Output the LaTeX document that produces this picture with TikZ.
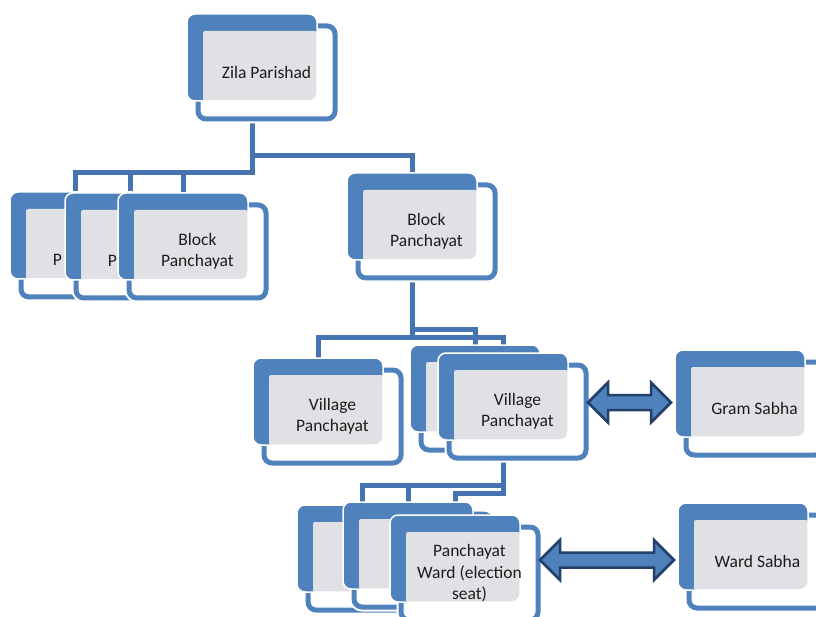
\documentclass[tikz,border=0pt]{standalone}
\usepackage{fontspec}
\setmainfont{Carlito}
\usetikzlibrary{calc}
\pgfdeclarelayer{links}
\pgfsetlayers{links,main}

\definecolor{cardblue}{HTML}{4F81BD}
\definecolor{linkblue}{HTML}{4674B0}
\definecolor{panelgray}{HTML}{DFE1E4}
\definecolor{arrowedge}{HTML}{22406A}
\definecolor{inktext}{HTML}{1C1C1C}

\tikzset{
  % white panel with a thick blue frame, sitting under the plate
  framebox/.style={rectangle, rounded corners=8, fill=white, draw=cardblue,
    line width=5, minimum width=137, minimum height=93, anchor=north west,
    inner sep=0, outer sep=0, preaction={draw=white, line width=9}},
  % solid blue plate on top, with a grey inset reaching its lower right edges
  platebox/.style={rectangle, rounded corners=8, fill=cardblue, draw=white,
    line width=1.5, minimum width=130, minimum height=87, anchor=north west,
    inner sep=0, outer sep=0,
    path picture={\fill[panelgray, rounded corners=2]
      ([shift={(16,-17)}]path picture bounding box.north west) rectangle
      (path picture bounding box.south east);}},
  cardtext/.style={align=center, text=inktext, inner sep=0,
    font=\fontsize{17.5}{21.5}\selectfont},
  conn/.style={draw=linkblue, line width=5},
  dblarrow/.style={fill=cardblue, draw=arrowedge, line width=2.5, line join=miter}
}

% a card: frame #1F, plate #1B and label #1, placed by the plate's top-left corner
\newcommand\orgcard[4]{%
  \node[framebox] (#1F) at ({#2+11},{-#3-12}) {};
  \node[platebox] (#1B) at (#2,-#3) {};
  \node[cardtext] (#1) at ({#2+79.5},{-#3-58.5}) {#4};
}

% two-headed block arrow from one card's frame to another card's plate
\newcommand\linkarrow[2]{%
  \draw[dblarrow] let \p1=(#1F.east), \p2=(#2B.west), \n1={(\y1+\y2)/2} in
    (\x1+2pt,\n1) -- (\x1+22pt,\n1+20) -- (\x1+22pt,\n1+7.5) --
    (\x2-24pt,\n1+7.5) -- (\x2-24pt,\n1+20) -- (\x2-4pt,\n1) --
    (\x2-24pt,\n1-20) -- (\x2-24pt,\n1-7.5) -- (\x1+22pt,\n1-7.5) --
    (\x1+22pt,\n1-20) -- cycle;
}

\begin{document}
\begin{tikzpicture}[x=1pt, y=1pt]
\useasboundingbox (0,0) rectangle (816,-617);
\clip (0,0) rectangle (816,-617);

% district level
\orgcard{zp}{187}{14}{Zila Parishad}

% block level (the first two cards of the stack are mostly covered)
\orgcard{b1}{10}{192}{\phantom{Block}\\P\phantom{anchayat}}
\orgcard{b2}{65}{193}{\phantom{Block}\\P\phantom{anchayat}}
\orgcard{b3}{118}{193}{Block\\Panchayat}
\orgcard{bp}{347}{173}{Block\\Panchayat}

% village level
\orgcard{vl}{253}{358}{Village\\Panchayat}
\orgcard{v1}{410}{345}{}
\orgcard{v2}{438}{353}{Village\\Panchayat}
\orgcard{gs}{675}{350}{Gram Sabha}

% ward level
\orgcard{w1}{297}{505}{}
\orgcard{w2}{343}{502}{}
\orgcard{w3}{390}{515}{Panchayat\\Ward (election\\seat)}
\orgcard{ws}{678}{503}{Ward Sabha}

% hierarchy links
\begin{pgfonlayer}{links}
  \draw[conn] (zpB.center |- zpF.south) -- ++(0,-37) -| (bpB.north);
  \draw[conn] (zpB.center |- zpF.south) -- ++(0,-54) -| (b1B.north);
  \draw[conn] (zpB.center |- zpF.south) -- ++(0,-54) -| (b2B.north);
  \draw[conn] (zpB.center |- zpF.south) -- ++(0,-54) -| (b3B.north);

  \draw[conn] (bpB.center |- bpF.south) -- ++(0,-60) -| (vlB.north);
  \draw[conn] (bpB.center |- bpF.south) -- ++(0,-52) -| (v1B.north);
  \draw[conn] (bpB.center |- bpF.south) -- ++(0,-60) -| (v2B.north);

  \draw[conn] (v2B.center |- v2F.south) -- ++(0,-27) -| (w1B.north);
  \draw[conn] (v2B.center |- v2F.south) -- ++(0,-27) -| (w2B.north);
  \draw[conn] (v2B.center |- v2F.south) -- ++(0,-35) -| (w3B.north);
\end{pgfonlayer}

% links to the assemblies
\linkarrow{v2}{gs}
\linkarrow{w3}{ws}
\end{tikzpicture}
\end{document}
